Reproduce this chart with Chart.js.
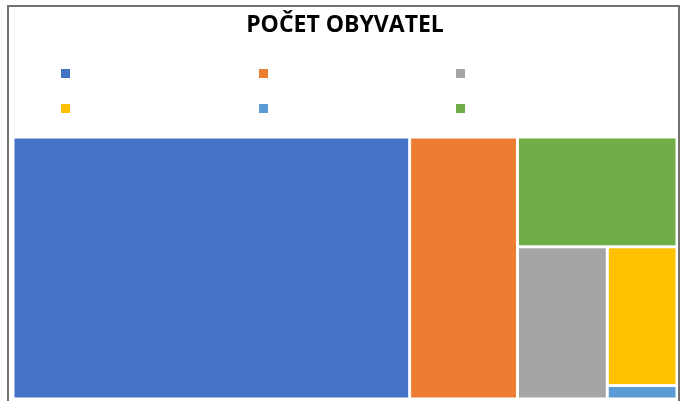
<!DOCTYPE html>
<html>
<head>
<meta charset="utf-8">
<script src="https://cdn.jsdelivr.net/npm/chart.js@4/dist/chart.umd.min.js"></script>
<style>
  html, body { margin: 0; padding: 0; background: #fff; overflow: hidden; }
  #frame {
    position: absolute; left: 7px; top: 5px; width: 669px; height: 400px;
    border: 2px solid #767171; border-bottom: none;
  }
  #wrap { position: absolute; left: 0; top: 0; width: 669px; height: 394px; }
  #legend {
    position: absolute; left: 0; top: 0; width: 685px; height: 130px; pointer-events: none;
    font: 12px "Open Sans", sans-serif; color: #fff;
  }
  #legend .item { position: absolute; display: flex; align-items: center; white-space: nowrap; }
  #legend .box { width: 9px; height: 9px; margin-right: 7px; }
</style>
</head>
<body>
<div id="frame"><div id="wrap"><canvas id="treemapChart"></canvas></div></div>
<div id="legend"></div>
<script>
// data (reading from the picture, relative areas)
const categories = ["Kategorie 1", "Kategorie 2", "Kategorie 3", "Kategorie 4", "Kategorie 5", "Kategorie 6"];
const populations = [597400, 162400, 78600, 55600, 5400, 100700];
const colors = ["#4472C4", "#ED7D31", "#A5A5A5", "#FFC000", "#5B9BD5", "#70AD47"];

// Excel-like slice layout: biggest first, cut along the longer side
function sliceLayout(vals, aspect) {
  const order = vals.map((v, i) => i).sort((a, b) => vals[b] - vals[a]);
  let x0 = 0, y0 = 0, w = 1, h = 1;
  let rest = vals.reduce((a, b) => a + b, 0);
  const out = [];
  order.forEach((i, k) => {
    if (k === order.length - 1) {
      out.push({ i, x0, y0, x1: x0 + w, y1: y0 + h });
      return;
    }
    const f = vals[i] / rest;
    if (w * aspect >= h) {
      out.push({ i, x0, y0, x1: x0 + w * f, y1: y0 + h });
      x0 += w * f; w -= w * f;
    } else {
      out.push({ i, x0, y0, x1: x0 + w, y1: y0 + h * f });
      y0 += h * f; h -= h * f;
    }
    rest -= vals[i];
  });
  return out;
}

const treemapPlugin = {
  id: "treemapCells",
  afterDatasetsDraw(chart) {
    const { ctx, chartArea, scales: { x, y } } = chart;
    const cells = sliceLayout(populations, chartArea.width / chartArea.height);
    ctx.save();
    cells.forEach(c => {
      const px0 = x.getPixelForValue(c.x0), px1 = x.getPixelForValue(c.x1);
      const py0 = y.getPixelForValue(c.y0), py1 = y.getPixelForValue(c.y1);
      ctx.fillStyle = colors[c.i];
      ctx.fillRect(px0 + 1.5, py0 + 1.5, px1 - px0 - 3, py1 - py0 - 3);
    });
    ctx.restore();
  }
};

// legend in an Excel-like 3 column grid (labels are white in the original)
const legendEl = document.getElementById("legend");
categories.forEach((name, i) => {
  const item = document.createElement("div");
  item.className = "item";
  item.style.left = (61 + (i % 3) * 197.5) + "px";
  item.style.top = (65 + Math.floor(i / 3) * 35) + "px";
  item.innerHTML = '<span class="box" style="background:' + colors[i] + '"></span><span>' + name + "</span>";
  legendEl.appendChild(item);
});

new Chart(document.getElementById("treemapChart"), {
  type: "scatter",
  data: { datasets: [{ label: "Počet obyvatel", data: [] }] },
  options: {
    responsive: true,
    maintainAspectRatio: false,
    animation: false,
    layout: { padding: { left: 4, right: 1, top: 0, bottom: 2 } },
    scales: {
      x: { type: "linear", min: 0, max: 1, display: false },
      y: { type: "linear", min: 0, max: 1, reverse: true, display: false }
    },
    plugins: {
      legend: { display: false },
      tooltip: { enabled: false },
      title: {
        display: true,
        text: "POČET OBYVATEL",
        color: "#000",
        font: { family: "Open Sans", size: 23, weight: "bold" },
        padding: { top: 5, bottom: 97.4 }
      }
    }
  },
  plugins: [treemapPlugin]
});
</script>
</body>
</html>
